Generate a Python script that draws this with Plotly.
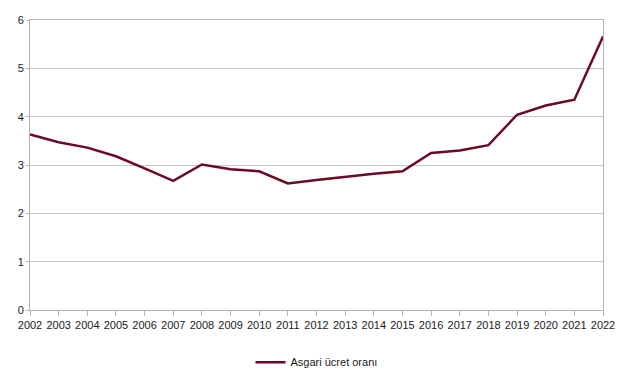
import plotly.graph_objects as go

years = [str(y) for y in range(2002, 2023)]
values = [3.63, 3.47, 3.36, 3.18, 2.93, 2.67, 3.01, 2.91, 2.87, 2.62, 2.69, 2.76, 2.82, 2.87,
          3.25, 3.30, 3.41, 4.04, 4.23, 4.35, 5.66]
series_name = "Asgari ücret oranı"
y_ticks = [0, 1, 2, 3, 4, 5, 6]

fig = go.Figure()
fig.add_trace(go.Scatter(x=years, y=values, mode="lines", name=series_name,
                         line=dict(color="#6b0a22", width=2.5)))

fig.update_layout(
    width=635, height=375,
    margin=dict(l=30, r=32, t=20, b=65, autoexpand=False),
    plot_bgcolor="white", paper_bgcolor="white",
    font=dict(family="Liberation Sans, Arial, sans-serif", size=11, color="#1a1a1a"),
    showlegend=True,
    legend=dict(orientation="h", x=0.5, xanchor="center", y=-0.18, yanchor="middle",
                font=dict(size=11)),
)
fig.update_xaxes(type="category", range=[0, 20], showgrid=False, showline=True,
                 linecolor="#b3b3b3", linewidth=1, mirror=True,
                 ticks="outside", ticklen=5, tickcolor="#b3b3b3", tickangle=0,
                 zeroline=False)
fig.update_yaxes(range=[0, 6], tickvals=y_ticks, showgrid=True, gridcolor="#c8c8c8",
                 showline=True, linecolor="#b3b3b3", linewidth=1, mirror=True,
                 ticks="outside", ticklen=3, tickcolor="#b3b3b3", zeroline=False)

fig.write_html("out.html", config={"displayModeBar": False},
               post_script="document.body.style.margin='0px';document.body.style.overflow='hidden';")
